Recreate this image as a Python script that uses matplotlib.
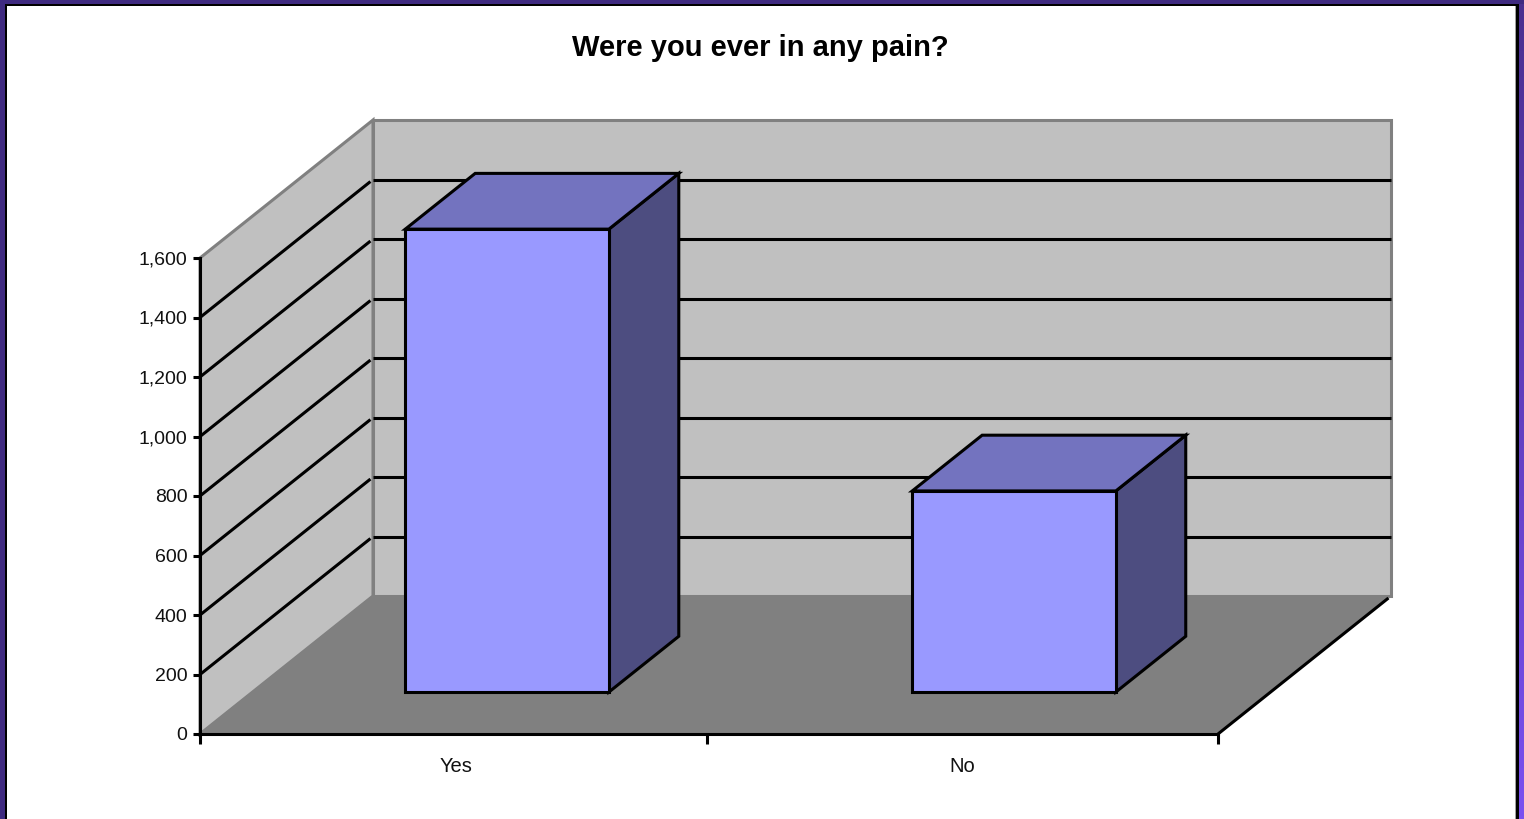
import matplotlib
matplotlib.use("Agg")
import matplotlib.pyplot as plt
import numpy as np
from matplotlib.colors import LinearSegmentedColormap
from matplotlib.patches import Polygon, Rectangle
from matplotlib.transforms import IdentityTransform

categories = ["Yes", "No"]
values = [1556, 676]
y_ticks = [0, 200, 400, 600, 800, 1000, 1200, 1400, 1600]
title = "Were you ever in any pain?"

WIDTH, HEIGHT = 1524, 819
# how far the back of the chart box sits from the front plane, in pixels
DEPTH_X, DEPTH_Y = 173, 138
BAR_WIDTH = 0.40
BAR_DEPTH = (0.304, 0.708)
BAR_CENTERS = [0.5, 1.496]
LABEL_CENTERS = [0.503, 1.497]
X_TICKS = [0, 0.997, 2]
LW = 2.2

plt.rcParams["font.family"] = ["Liberation Sans", "DejaVu Sans"]

fig = plt.figure(figsize=(WIDTH / 100, HEIGHT / 100), dpi=100, facecolor="white")
ax = fig.add_axes([200 / WIDTH, 1 - 734 / HEIGHT, 1018 / WIDTH, 476 / HEIGHT])
ax.set_xlim(0, len(categories))
ax.set_ylim(0, 1600)
ax.patch.set_visible(False)
for spine in ax.spines.values():
    spine.set_visible(False)


def project(x, depth, y):
    # data coordinates plus depth -> pixels, oblique projection
    px, py = ax.transData.transform((x, y))
    return px + depth * DEPTH_X, py + depth * DEPTH_Y


def face(corners, color, edge, lw, z):
    pts = [project(*c) for c in corners]
    ax.add_patch(Polygon(pts, closed=True, facecolor=color, edgecolor=edge, linewidth=lw,
                         joinstyle="miter", transform=IdentityTransform(), clip_on=False, zorder=z))


def edge_line(a, b, color, lw, z):
    p, q = project(*a), project(*b)
    ax.plot([p[0], q[0]], [p[1], q[1]], color=color, lw=lw, transform=IdentityTransform(),
            clip_on=False, zorder=z, solid_capstyle="butt")


xmax = len(categories)
ymax = y_ticks[-1]

# floor and the two walls
face([(0, 1, 0), (xmax, 1, 0), (xmax, 1, ymax), (0, 1, ymax)], "#c0c0c0", "#808080", LW, 1)
face([(0, 0, 0), (0, 1, 0), (0, 1, ymax), (0, 0, ymax)], "#c0c0c0", "#808080", LW, 1)
face([(0, 0, 0), (xmax, 0, 0), (xmax, 1, 0), (0, 1, 0)], "#808080", "#808080", 1, 1.5)

# gridlines run along the side wall and across the back wall
for t in y_ticks[1:-1]:
    edge_line((0, 0, t), (0, 0.985, t), "black", LW, 2)
    edge_line((0, 1, t), (xmax, 1, t), "black", LW, 2)

# floor edge on the right
edge_line((xmax, 0, 0), (xmax, 0.985, 0), "black", LW, 2)

# bars: side, top, then front
for cx, v in zip(BAR_CENTERS, values):
    x0 = cx - BAR_WIDTH / 2
    x1 = cx + BAR_WIDTH / 2
    d0, d1 = BAR_DEPTH
    face([(x1, d0, 0), (x1, d1, 0), (x1, d1, v), (x1, d0, v)], "#4d4d80", "black", LW, 3)
    face([(x0, d0, v), (x1, d0, v), (x1, d1, v), (x0, d1, v)], "#7373bf", "black", LW, 3)
    face([(x0, d0, 0), (x1, d0, 0), (x1, d0, v), (x0, d0, v)], "#9999ff", "black", LW, 4)

# axis lines and ticks
ax.set_xticks(X_TICKS)
ax.set_xticklabels([])
ax.set_yticks(y_ticks)
ax.set_yticklabels([f"{t:,}" for t in y_ticks], fontsize=14, color="#111111")
ax.tick_params(axis="y", length=5, width=LW, pad=4)
ax.tick_params(axis="x", length=7, width=LW)
for side in ("left", "bottom"):
    ax.spines[side].set_visible(True)
    ax.spines[side].set_linewidth(LW)
    ax.spines[side].set_zorder(5)

for cx, name in zip(LABEL_CENTERS, categories):
    ax.annotate(name, xy=(cx, 0), xytext=(0, -32), textcoords="offset pixels",
                ha="center", va="center", fontsize=14.5, color="#111111")

fig.text(760.5 / WIDTH, 1 - 47.5 / HEIGHT, title, ha="center", va="center",
         fontsize=21, fontweight="bold", color="black")

# page frame: purple band outside a thin black line
frame = fig.add_axes([0, 0, 1, 1], zorder=10)
frame.set_xlim(0, WIDTH)
frame.set_ylim(HEIGHT, 0)
frame.axis("off")
frame.patch.set_visible(False)
band = LinearSegmentedColormap.from_list("band", ["#4a2f8f", "#7a50f0"])
frame.imshow(np.linspace(0, 1, 256).reshape(-1, 1), cmap=band, aspect="auto",
             extent=(1519, 1524, HEIGHT, 0), zorder=1)
frame.set_xlim(0, WIDTH)
frame.set_ylim(HEIGHT, 0)
frame.add_patch(Rectangle((0, 0), 5, HEIGHT, color="#3f2a80", lw=0))
frame.add_patch(Rectangle((0, 0), WIDTH, 3.5, color="#3f2a80", lw=0))
frame.add_patch(Rectangle((1515, 5.5), 1.3, HEIGHT, color="#a0a0a0", lw=0))
frame.add_patch(Rectangle((5, 3.5), 2.3, HEIGHT, color="black", lw=0))
frame.add_patch(Rectangle((5, 3.5), 1514, 2, color="black", lw=0))
frame.add_patch(Rectangle((1516.3, 3.5), 2.7, HEIGHT, color="black", lw=0))

fig.savefig("out.png", dpi=100)
